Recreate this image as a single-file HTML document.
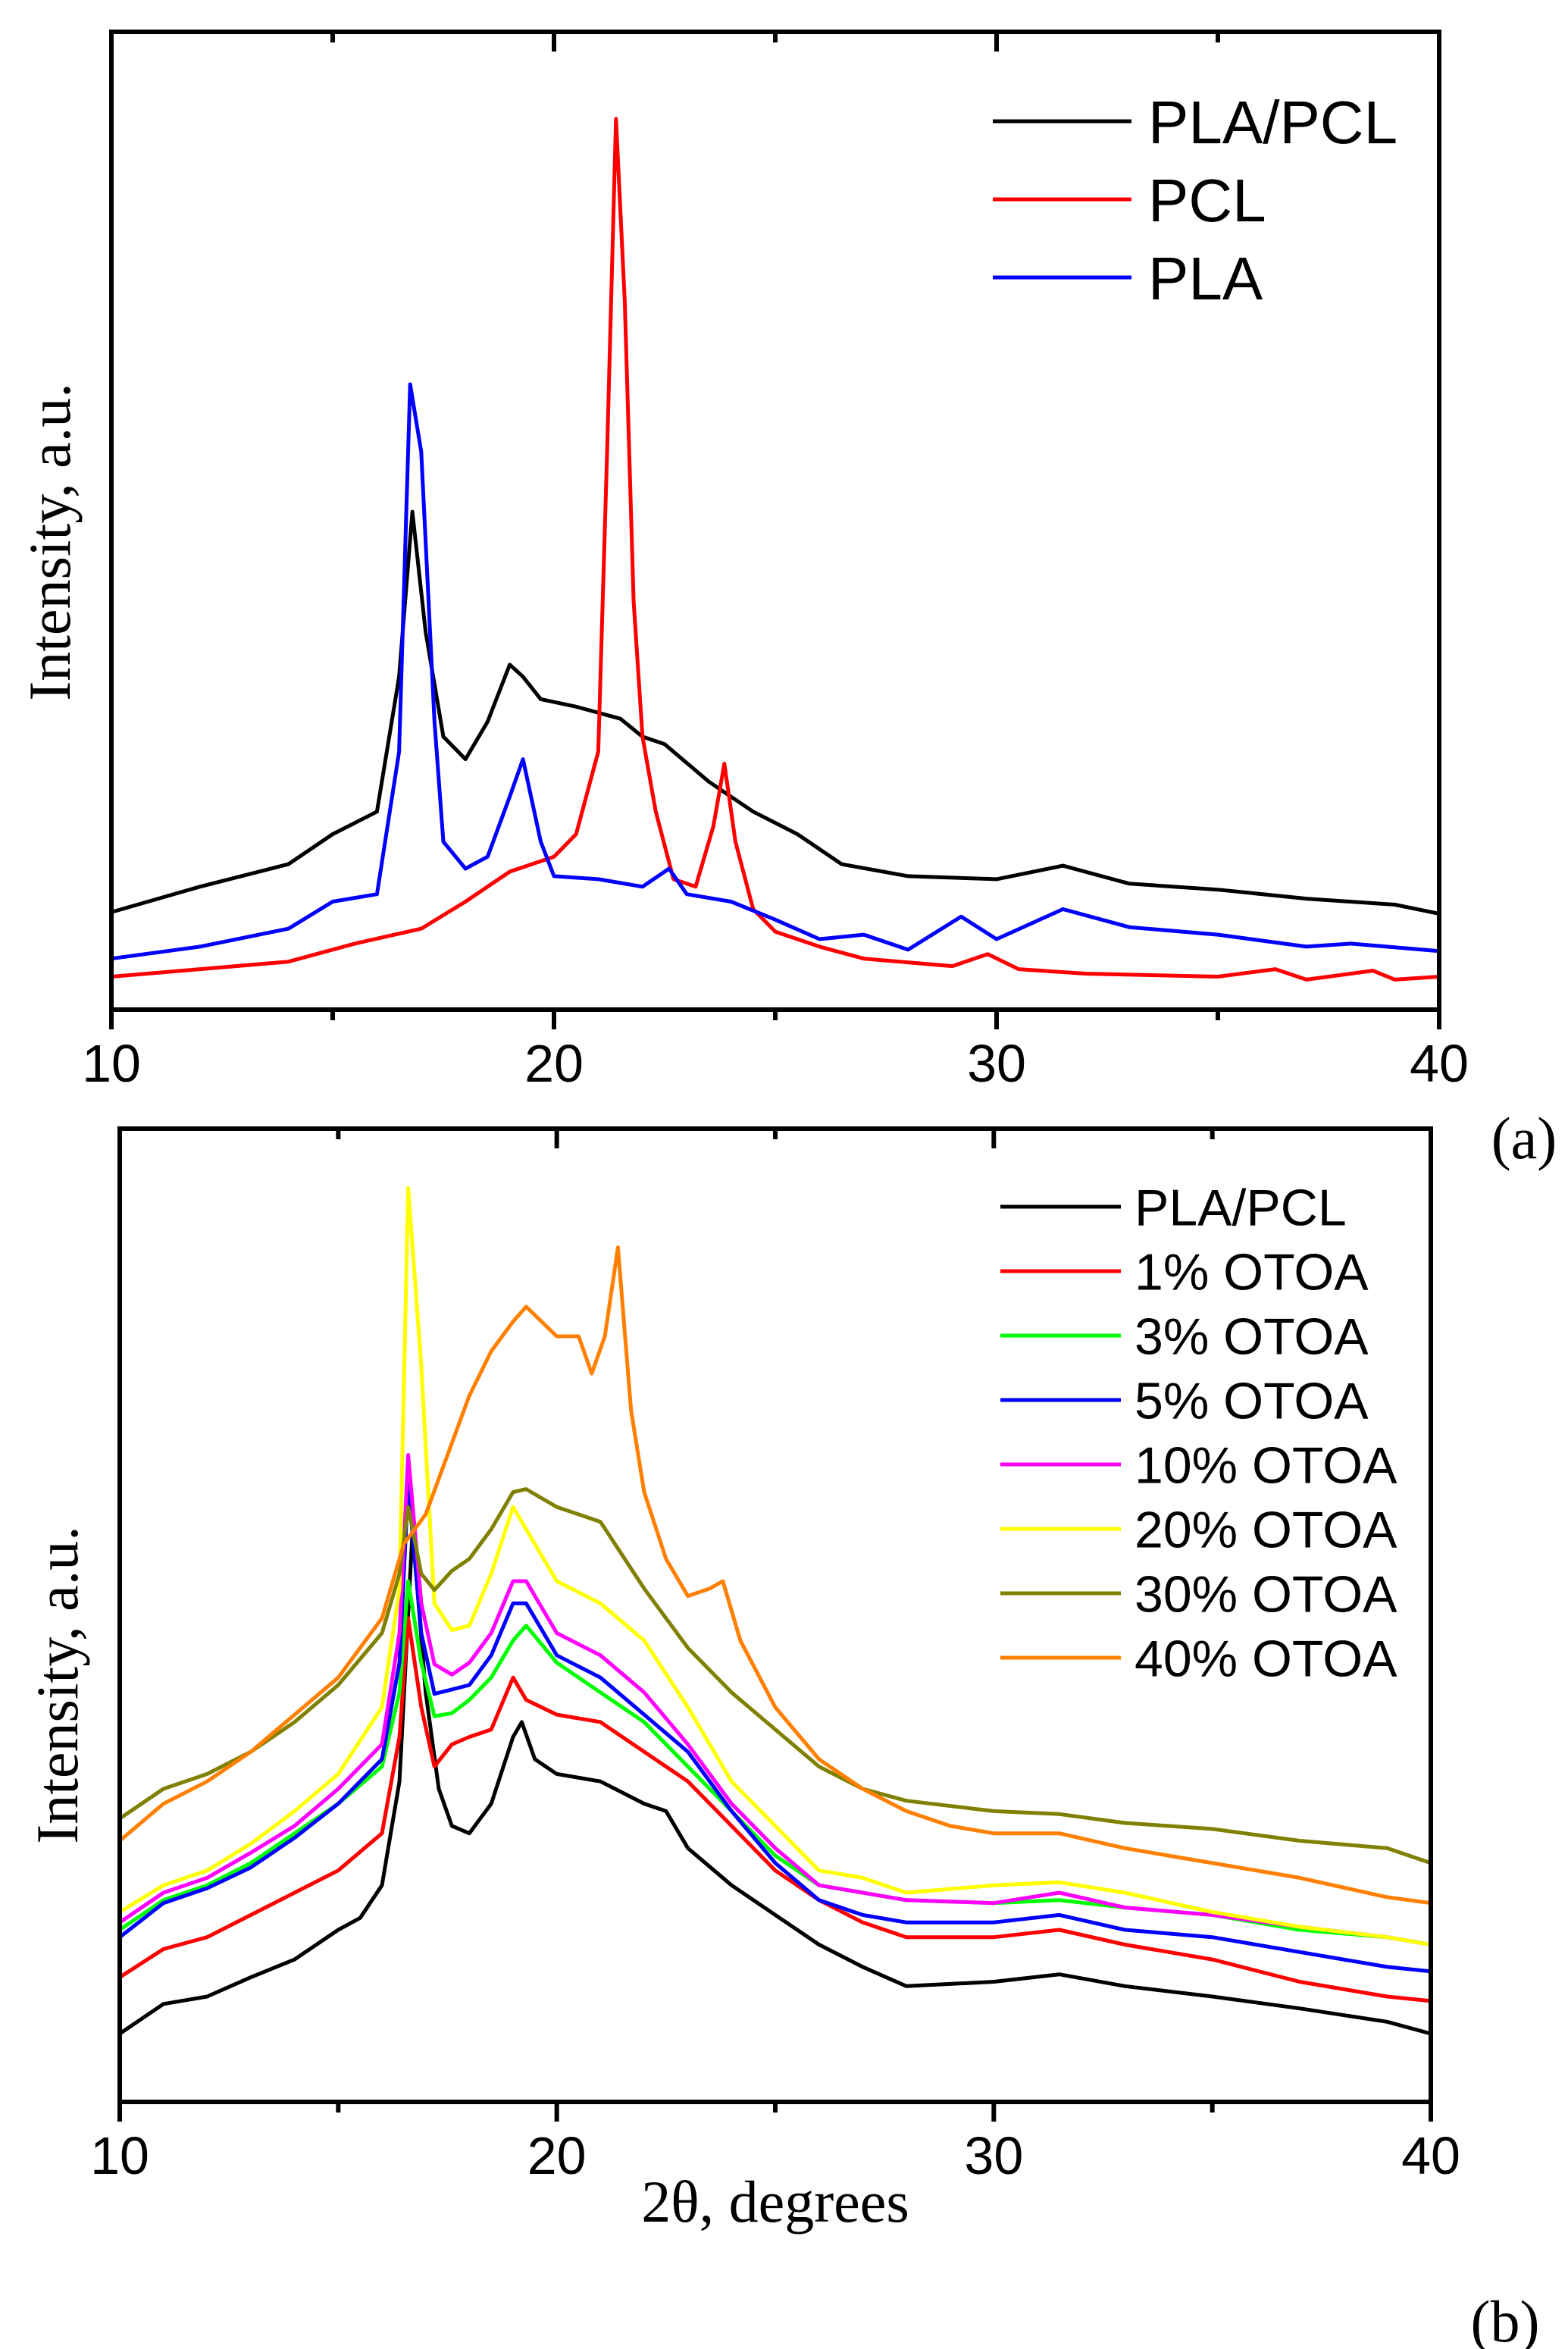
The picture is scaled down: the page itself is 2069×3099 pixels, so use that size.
<!DOCTYPE html>
<html><head><meta charset="utf-8"><style>
html,body{margin:0;padding:0;background:#fff;}
svg{display:block;}
</style></head><body>
<svg id="fig" xmlns="http://www.w3.org/2000/svg" width="2069" height="3099" viewBox="0 0 2069 3099">
<rect width="2069" height="3099" fill="#fff"/>
<g id="chartA"></g>
<g id="chartB"></g>
<text x="2011" y="1528" font-family="Liberation Serif, serif" font-size="78" text-anchor="middle">(a)</text>
<text x="1986" y="3089" font-family="Liberation Serif, serif" font-size="78" text-anchor="middle">(b)</text>
</svg>
<script>
// ---- Chart A data (2θ degrees, intensity a.u.) ----
const aBlendX = [10,12,14,15,16,16.5,16.8,17.1,17.5,18,18.5,19,19.3,19.7,20.5,21.5,22,22.5,23.5,24.5,25.5,26.5,28,30,31.5,33,35,37,39,40];
const aBlendY = [65,82,97,117,132,222,332,252,182,167,192,230,222,207,202,194,182,177,152,132,117,97,89,87,96,84,80,74,70,64];
const aPCLX = [10,12,14,15.5,17,18,19,20,20.5,21,21.2,21.4,21.6,21.8,22,22.3,22.7,23.2,23.6,23.85,24.1,24.5,25,26,27,29,29.8,30.5,32,35,36.3,37,38.5,39,40];
const aPCLY = [22,27,32,44,54,72,92,102,117,172,372,594,472,272,182,132,87,82,122,164,112,67,52,42,34,29,37,27,24,22,27,20,26,20,22];
const aPLAX = [10,12,14,15,16,16.5,16.75,17,17.3,17.5,18,18.5,19,19.3,19.7,20,21,22,22.6,23,24,25,26,27,28,29.2,30,31.5,33,35,37,38,40];
const aPLAY = [34,42,54,72,77,172,417,372,192,112,94,102,142,167,112,89,87,82,94,77,72,60,47,50,40,62,47,67,55,50,42,44,39];
const xTicks = [10,20,30,40];
const xMinor = [15,25,35];
const aLegend = ["PLA/PCL","PCL","PLA"];

// ---- Chart B data ----
const bBlendX = [10,11,12,13,14,15,15.5,16,16.4,16.7,17,17.3,17.6,18,18.5,19,19.2,19.5,20,21,22,22.5,23,24,25,26,27,28,30,31.5,33,35,37,39,40];
const bBlendY = [46,66,71,84,96,116,124,146,216,386,276,211,186,181,201,246,256,231,221,216,201,196,171,146,126,106,91,78,81,86,78,71,63,54,46];
const bX = [10,11,12,13,14,15,16,16.4,16.6,16.9,17.2,17.6,18,18.5,19,19.3,20,21,22,23,24,25,26,27,28,30,31.5,33,35,37,39,40];
const b1Y = [84,103,111,126,141,156,181,246,326,266,226,241,246,251,286,271,261,256,236,216,186,156,136,121,111,111,116,106,96,81,71,68];
const b3Y = [116,136,146,161,181,201,226,276,351,296,260,262,271,286,311,321,296,276,256,226,196,166,146,141,136,134,136,131,126,116,111,106];
const b5Y = [111,134,144,158,178,201,231,296,416,316,275,278,281,301,336,336,301,286,261,236,196,161,136,126,121,121,126,116,111,101,91,88];
const b10Y = [121,141,151,168,186,211,241,316,436,336,295,288,296,316,351,351,316,301,276,241,201,171,146,141,136,134,141,131,126,118,111,106];
const b20Y = [128,146,156,174,196,221,266,346,616,496,336,318,321,356,401,386,351,336,311,266,216,186,156,151,141,146,148,141,128,118,111,106];
const b30Y = [191,211,221,236,256,281,316,356,401,356,345,358,366,386,411,413,401,391,346,306,276,251,226,211,203,196,194,188,184,176,171,161];
const b40X = [10,11,12,13,14,15,16,16.5,17,17.5,18,18.5,19,19.3,20,20.5,20.8,21.1,21.4,21.7,22,22.5,23,23.5,23.8,24.2,25,26,27,28,29,30,31.5,33,35,37,39,40];
const b40Y = [176,201,216,236,261,286,326,376,396,436,476,506,526,536,516,516,491,516,576,466,411,366,341,346,351,311,266,231,211,196,186,181,181,171,161,151,138,134];
const bLegend = ["PLA/PCL","1% OTOA","3% OTOA","5% OTOA","10% OTOA","20% OTOA","30% OTOA","40% OTOA"];

const NS = "http://www.w3.org/2000/svg";
function mk(tag, attrs, parent){const e=document.createElementNS(NS,tag);for(const k in attrs)e.setAttribute(k,attrs[k]);parent.appendChild(e);return e;}

function drawChart(g, box, yMax, series, legend, legendBox, showXTitle, yTitleX, yTitleY){
  const sx = v => box.x0 + (v-10)/30*(box.x1-box.x0);
  const sy = v => box.y1 - v/yMax*(box.y1-box.y0);
  series.forEach((s,i)=>{
    const pts = s.x.map((xv,j)=>sx(xv).toFixed(1)+","+sy(s.y[j]).toFixed(1)).join(" ");
    const pl = mk("polyline",{points:pts,fill:"none",stroke:s.c,"stroke-width":5,"stroke-linejoin":"round"},g);
    
    
  });
  const fr = mk("rect",{x:box.x0,y:box.y0,width:box.x1-box.x0,height:box.y1-box.y0,fill:"none",stroke:"#000","stroke-width":6},g);
  
  
  xTicks.forEach(t=>{
    const x=sx(t);
    const tk = mk("line",{x1:x,y1:box.y1,x2:x,y2:box.y1+26,stroke:"#000","stroke-width":6},g);
    
    
    mk("line",{x1:x,y1:box.y0,x2:x,y2:box.y0+26,stroke:"#000","stroke-width":6},g);
    const tl = mk("text",{x:x,y:box.y1+95,"font-family":"Liberation Sans, sans-serif","font-size":70,"text-anchor":"middle"},g);
    tl.textContent=t;
    
    
  });
  xMinor.forEach(t=>{
    const x=sx(t);
    mk("line",{x1:x,y1:box.y1,x2:x,y2:box.y1+14,stroke:"#000","stroke-width":6},g);
    mk("line",{x1:x,y1:box.y0,x2:x,y2:box.y0+14,stroke:"#000","stroke-width":6},g);
  });
  if(showXTitle){
    const xt = mk("text",{x:(box.x0+box.x1)/2,y:box.y1+158,"font-family":"Liberation Serif, serif","font-size":78,"text-anchor":"middle"},g);
    xt.textContent="2θ, degrees";
    
    
  }
  const yt = mk("text",{x:0,y:0,transform:`translate(${yTitleX},${yTitleY}) rotate(-90)`,"font-family":"Liberation Serif, serif","font-size":78,"text-anchor":"middle"},g);
  yt.textContent="Intensity, a.u.";
  
  
  legend.forEach((lab,i)=>{
    const y = legendBox.y + i*legendBox.dy;
    const ll = mk("line",{x1:legendBox.lx0,y1:y,x2:legendBox.lx1,y2:y,stroke:series[i].c,"stroke-width":5},g);
    
    
    const lt = mk("text",{x:legendBox.tx,y:y+legendBox.fs*0.36,"font-family":"Liberation Sans, sans-serif","font-size":legendBox.fs},g);
    lt.textContent=lab;
    
    
  });
}

drawChart(document.getElementById("chartA"), {x0:147,x1:1899,y0:42,y1:1332}, 652,
  [{x:aBlendX,y:aBlendY,c:"#000",n:"pla-pcl"},{x:aPCLX,y:aPCLY,c:"#f00",n:"pcl"},{x:aPLAX,y:aPLAY,c:"#00f",n:"pla"}],
  aLegend, {y:160,dy:103,lx0:1310,lx1:1493,tx:1515,fs:80}, false, 92, 715);

drawChart(document.getElementById("chartB"), {x0:158,x1:1888,y0:1489,y1:2773}, 656,
  [{x:bBlendX,y:bBlendY,c:"#000",n:"pla-pcl"},{x:bX,y:b1Y,c:"#f00",n:"otoa-1"},{x:bX,y:b3Y,c:"#0f0",n:"otoa-3"},{x:bX,y:b5Y,c:"#00f",n:"otoa-5"},{x:bX,y:b10Y,c:"#f0f",n:"otoa-10"},{x:bX,y:b20Y,c:"#ff0",n:"otoa-20"},{x:bX,y:b30Y,c:"#808000",n:"otoa-30"},{x:b40X,y:b40Y,c:"#ff8000",n:"otoa-40"}],
  bLegend, {y:1592,dy:85,lx0:1320,lx1:1479,tx:1497,fs:68}, true, 102, 2223);
</script>
</body></html>
